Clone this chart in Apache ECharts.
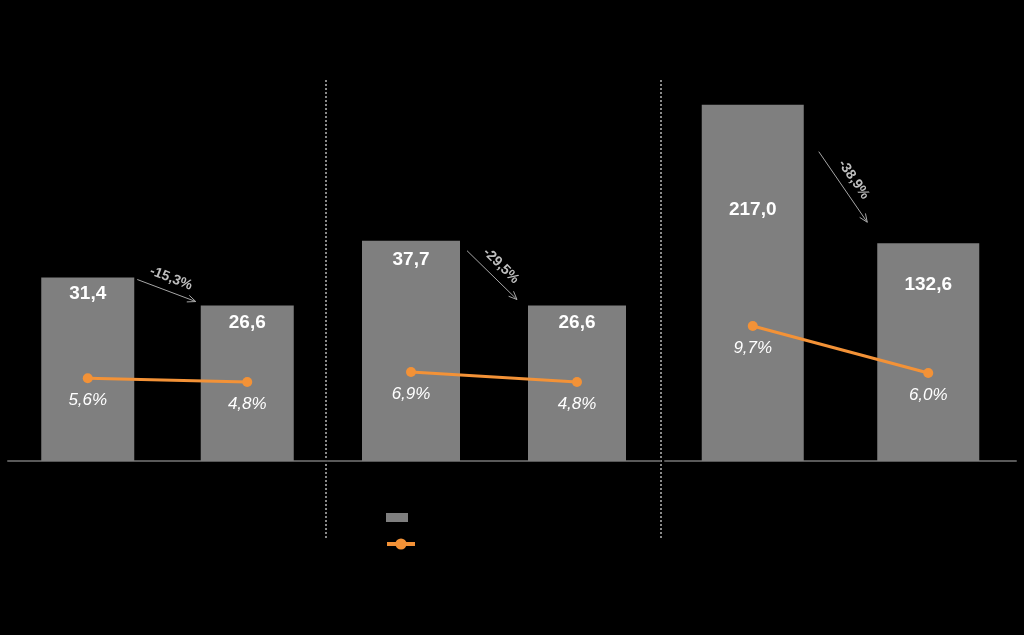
<!DOCTYPE html>
<html>
<head>
<meta charset="utf-8">
<style>
  html, body { margin: 0; padding: 0; background: #000; }
  #chart { width: 1024px; height: 635px; }
</style>
<script src="https://cdn.jsdelivr.net/npm/echarts@6/dist/echarts.min.js"></script>
</head>
<body>
<div id="chart"></div>
<script>
// ---- data ----
const categories = ['Antes', 'Depois'];
const barValues1 = [31.4, 26.6];
const barValues2 = [37.7, 26.6];
const barValues3 = [217.0, 132.6];
const lineValues1 = [5.6, 4.8];
const lineValues2 = [6.9, 4.8];
const lineValues3 = [9.7, 6.0];
const changeValues = [-15.3, -29.5, -38.9];
const barName = 'Valor';
const lineName = 'Margem';

// ---- layout / style ----
const barData = [barValues1, barValues2, barValues3];
const lineData = [lineValues1, lineValues2, lineValues3];
const GRID_TOP = 80, GRID_H = 381;
const grids = [
  { left: 8, width: 319 },
  { left: 328, width: 332 },
  { left: 665, width: 351 }
];
const barWidths = [93, 98, 102];
const barMax = [65.2, 65.2, 232];
const lineRange = [[-11.8, 68.3], [-11.8, 68.3], [-0.93, 29.07]];
const barLabelDist = [[7, 7.5], [9.5, 7.5], [95.5, 32.5]];
const arrowOffsets = [[3, 2, -5, -4], [7, 10, -11, -6], [15, 47, -10, -21]];
const GRAY = '#7f7f7f';
const ORANGE = '#F39237';
const FONT = '"Liberation Sans", Arial, sans-serif';

const fmt = v => v.toFixed(1).replace('.', ',');

const chart = echarts.init(document.getElementById('chart'));

const option = {
  backgroundColor: '#000',
  animation: false,
  grid: grids.map(g => ({ left: g.left, width: g.width, top: GRID_TOP, height: GRID_H, containLabel: false })),
  xAxis: grids.map((g, i) => ({
    type: 'category', gridIndex: i, data: categories,
    axisLine: { show: true, lineStyle: { color: '#595959', width: 2 } },
    axisTick: { show: false }, axisLabel: { show: false }, splitLine: { show: false }
  })),
  yAxis: [],
  legend: [
    {
      orient: 'vertical', left: 386, top: 513, padding: 0,
      itemWidth: 22, itemHeight: 9,
      formatter: () => '',
      data: [{ name: barName, icon: 'rect' }],
      textStyle: { color: '#000' }
    },
    {
      orient: 'vertical', left: 385, top: 537, padding: 0,
      itemWidth: 28, itemHeight: 14,
      formatter: () => '',
      data: [lineName],
      lineStyle: { width: 4 },
      textStyle: { color: '#000' }
    }
  ],
  series: []
};

for (let i = 0; i < 3; i++) {
  option.yAxis.push({ type: 'value', gridIndex: i, min: 0, max: barMax[i], show: false, splitLine: { show: false } });
  option.yAxis.push({ type: 'value', gridIndex: i, min: lineRange[i][0], max: lineRange[i][1], show: false, splitLine: { show: false } });
  option.series.push({
    name: barName, type: 'bar', xAxisIndex: i, yAxisIndex: i * 2,
    barWidth: barWidths[i],
    itemStyle: { color: GRAY },
    data: barData[i].map((v, j) => ({ value: v, label: { distance: barLabelDist[i][j] } })),
    label: {
      show: true, position: 'insideTop', color: '#fff',
      fontFamily: FONT, fontWeight: 'bold', fontSize: 19,
      formatter: p => fmt(p.value)
    },
    z: 2
  });
  option.series.push({
    name: lineName, type: 'line', xAxisIndex: i, yAxisIndex: i * 2 + 1,
    data: lineData[i],
    symbol: 'circle', symbolSize: 10,
    lineStyle: { color: ORANGE, width: 3 },
    itemStyle: { color: ORANGE },
    label: {
      show: true, position: 'bottom', distance: 9, color: '#fff',
      fontFamily: FONT, fontStyle: 'italic', fontSize: 17,
      formatter: p => fmt(p.value) + '%'
    },
    z: 5
  });
}

chart.setOption(option);

// ---- annotations anchored to the data ----
const graphics = [];
// dotted separators between panels
[326, 661].forEach(x => {
  graphics.push({
    type: 'line', silent: true,
    shape: { x1: x, y1: 80, x2: x, y2: 540 },
    style: { stroke: '#8a8a8a', lineWidth: 2, lineDash: [2, 2] }
  });
});

for (let i = 0; i < 3; i++) {
  const p0 = chart.convertToPixel({ xAxisIndex: i, yAxisIndex: i * 2 }, [0, barData[i][0]]);
  const p1 = chart.convertToPixel({ xAxisIndex: i, yAxisIndex: i * 2 }, [1, barData[i][1]]);
  const o = arrowOffsets[i];
  const x1 = p0[0] + barWidths[i] / 2 + o[0], y1 = p0[1] + o[1];
  const x2 = p1[0] - barWidths[i] / 2 + o[2], y2 = p1[1] + o[3];
  const dx = x2 - x1, dy = y2 - y1, len = Math.hypot(dx, dy);
  const ux = dx / len, uy = dy / len;
  const ang = Math.atan2(dy, dx);
  const hl = 9, ha = 0.4;
  const h1 = [x2 - hl * Math.cos(ang - ha), y2 - hl * Math.sin(ang - ha)];
  const h2 = [x2 - hl * Math.cos(ang + ha), y2 - hl * Math.sin(ang + ha)];
  graphics.push({ type: 'line', silent: true, shape: { x1, y1, x2, y2 }, style: { stroke: '#a6a6a6', lineWidth: 1 } });
  graphics.push({ type: 'polyline', silent: true, shape: { points: [h1, [x2, y2], h2] }, style: { stroke: '#a6a6a6', lineWidth: 1, fill: null } });
  // label parallel to arrow, offset to the upper-right
  const nx = uy, ny = -ux;
  const mx = (x1 + x2) / 2 + nx * 13, my = (y1 + y2) / 2 + ny * 13;
  graphics.push({
    type: 'text', silent: true, x: mx, y: my, rotation: -ang,
    style: {
      x: 0, y: 0,
      text: fmt(changeValues[i]) + '%',
      fill: '#bfbfbf',
      font: 'bold 14px ' + FONT,
      align: 'center', verticalAlign: 'middle',
      textAlign: 'center', textVerticalAlign: 'middle'
    }
  });
}

chart.setOption({ graphic: graphics });
</script>
</body>
</html>
